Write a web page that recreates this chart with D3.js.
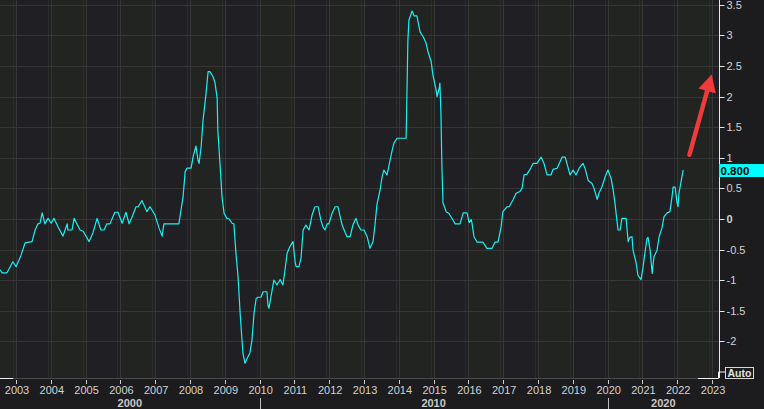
<!DOCTYPE html>
<html>
<head>
<meta charset="utf-8">
<script src="https://cdn.jsdelivr.net/npm/d3@7"></script>
<style>
  html, body { margin: 0; padding: 0; background: #1c1c1e; }
  svg { display: block; }
  text { font-family: "Liberation Sans", "DejaVu Sans", sans-serif; }
</style>
</head>
<body>
<div id="main"></div>
<script>
// dates as decimal years
const dates = [
  2002.54, 2002.60, 2002.74, 2002.91, 2003.00, 2003.14, 2003.26, 2003.46, 2003.55, 2003.63,
  2003.69, 2003.75, 2003.83, 2003.92, 2004.01, 2004.09, 2004.21, 2004.35, 2004.47, 2004.49,
  2004.61, 2004.67, 2004.84, 2004.93, 2005.10, 2005.21, 2005.33, 2005.44, 2005.53, 2005.61,
  2005.70, 2005.84, 2005.93, 2006.05, 2006.16, 2006.25, 2006.36, 2006.45, 2006.51, 2006.62,
  2006.76, 2006.85, 2006.99, 2007.11, 2007.20, 2007.25, 2007.68, 2007.80, 2007.86, 2007.91,
  2008.03, 2008.09, 2008.17, 2008.23, 2008.26, 2008.32, 2008.37, 2008.46, 2008.52, 2008.57,
  2008.66, 2008.72, 2008.78, 2008.80, 2008.86, 2008.92, 2008.98, 2009.06, 2009.12, 2009.21,
  2009.26, 2009.32, 2009.38, 2009.44, 2009.49, 2009.52, 2009.58, 2009.64, 2009.72, 2009.78,
  2009.84, 2009.90, 2009.95, 2010.04, 2010.10, 2010.21, 2010.24, 2010.27, 2010.36, 2010.41,
  2010.50, 2010.59, 2010.67, 2010.73, 2010.79, 2010.87, 2010.96, 2011.02, 2011.05, 2011.13,
  2011.19, 2011.25, 2011.33, 2011.42, 2011.51, 2011.59, 2011.68, 2011.76, 2011.82, 2011.88,
  2011.94, 2011.99, 2012.08, 2012.17, 2012.25, 2012.37, 2012.45, 2012.51, 2012.60, 2012.68,
  2012.77, 2012.83, 2012.91, 2013.00, 2013.09, 2013.17, 2013.26, 2013.32, 2013.37, 2013.46,
  2013.52, 2013.57, 2013.66, 2013.72, 2013.80, 2013.86, 2013.95, 2014.21, 2014.24, 2014.26,
  2014.29, 2014.38, 2014.44, 2014.52, 2014.61, 2014.70, 2014.78, 2014.84, 2014.93, 2014.98,
  2015.07, 2015.10, 2015.16, 2015.18, 2015.21, 2015.24, 2015.27, 2015.36, 2015.44, 2015.56,
  2015.62, 2015.76, 2015.85, 2015.96, 2016.02, 2016.08, 2016.10, 2016.16, 2016.25, 2016.42,
  2016.53, 2016.68, 2016.76, 2016.85, 2016.94, 2016.99, 2017.11, 2017.17, 2017.28, 2017.37,
  2017.48, 2017.54, 2017.60, 2017.68, 2017.77, 2017.86, 2017.97, 2018.09, 2018.17, 2018.26,
  2018.37, 2018.43, 2018.55, 2018.69, 2018.78, 2018.83, 2018.92, 2019.01, 2019.09, 2019.18,
  2019.29, 2019.35, 2019.44, 2019.55, 2019.61, 2019.70, 2019.75, 2019.84, 2019.93, 2020.01,
  2020.10, 2020.16, 2020.21, 2020.27, 2020.30, 2020.36, 2020.41, 2020.53, 2020.56, 2020.59,
  2020.64, 2020.70, 2020.73, 2020.82, 2020.87, 2020.96, 2021.02, 2021.07, 2021.13, 2021.16,
  2021.22, 2021.28, 2021.33, 2021.42, 2021.48, 2021.56, 2021.62, 2021.71, 2021.79, 2021.85,
  2021.88, 2021.94, 2021.99, 2022.02, 2022.05, 2022.11, 2022.17
];
const values = [
  -0.83, -0.88, -0.88, -0.70, -0.78, -0.60, -0.39, -0.37, -0.18, -0.08,
  -0.07, 0.10, -0.08, 0.01, -0.07, 0.01, -0.13, -0.28, -0.08, -0.18,
  -0.18, 0.01, -0.18, -0.20, -0.37, -0.23, 0.01, -0.18, -0.18, -0.08,
  -0.08, 0.11, 0.11, -0.07, 0.11, -0.08, 0.07, 0.20, 0.20, 0.30,
  0.12, 0.20, 0.07, -0.15, -0.28, -0.08, -0.08, 0.36, 0.77, 0.83,
  0.83, 1.02, 1.19, 0.96, 0.91, 1.18, 1.59, 2.05, 2.41, 2.41,
  2.33, 2.22, 1.97, 1.45, 0.91, 0.36, 0.09, 0.01, 0.00, -0.07,
  -0.08, -0.56, -0.94, -1.54, -1.95, -2.19, -2.36, -2.28, -2.19, -1.98,
  -1.54, -1.30, -1.28, -1.28, -1.19, -1.19, -1.41, -1.46, -1.16, -1.00,
  -1.08, -0.99, -1.08, -0.83, -0.56, -0.45, -0.37, -0.70, -0.78, -0.78,
  -0.64, -0.18, -0.10, -0.18, 0.07, 0.20, 0.20, -0.02, -0.13, -0.18,
  -0.08, -0.08, 0.09, 0.20, 0.20, -0.10, -0.21, -0.29, -0.29, -0.10,
  0.01, -0.10, -0.18, -0.18, -0.29, -0.48, -0.37, -0.07, 0.23, 0.47,
  0.69, 0.80, 0.72, 0.88, 1.10, 1.24, 1.32, 1.32, 2.27, 2.92,
  3.25, 3.40, 3.32, 3.32, 3.06, 2.98, 2.88, 2.73, 2.57, 2.35,
  2.11, 2.00, 2.14, 2.22, 1.73, 0.80, 0.26, 0.12, 0.09, -0.02,
  -0.08, -0.08, 0.10, 0.10, -0.06, -0.01, -0.06, -0.29, -0.38, -0.38,
  -0.48, -0.48, -0.38, -0.38, -0.13, 0.12, 0.20, 0.20, 0.31, 0.42,
  0.45, 0.50, 0.72, 0.73, 0.81, 0.91, 0.91, 1.01, 0.91, 0.72,
  0.72, 0.81, 0.83, 1.01, 1.01, 0.91, 0.72, 0.80, 0.72, 0.83,
  0.91, 0.83, 0.63, 0.58, 0.50, 0.32, 0.42, 0.53, 0.69, 0.80,
  0.66, 0.47, 0.26, -0.04, -0.18, -0.18, 0.01, 0.01, -0.18, -0.37,
  -0.30, -0.29, -0.51, -0.72, -0.92, -0.99, -0.78, -0.56, -0.32, -0.30,
  -0.51, -0.89, -0.62, -0.51, -0.29, -0.15, 0.04, 0.10, 0.12, 0.36,
  0.52, 0.52, 0.28, 0.20, 0.42, 0.61, 0.80
];
const yTicks = [3.5, 3, 2.5, 2, 1.5, 1, 0.5, 0, -0.5, -1, -1.5, -2];
const yearTicks = d3.range(2003, 2024);
const decades = [2000, 2010, 2020];
const lastLabel = '0.800';
// arrow annotation, in data units
const arrowFrom = [2022.35, 1.05];
const arrowTo = [2022.99, 2.36];

const W = 764, H = 409,
  plotR = 719, plotB = 378;

const svg = d3.select('#main').append('svg')
  .attr('width', W).attr('height', H);

const x = d3.scaleLinear().domain([2002.54, 2023.2]).range([0, plotR]);
const y = d3.scaleLinear().domain([-2.6, 3.58]).range([plotB, 0]);

// backgrounds
svg.append('rect').attr('width', W).attr('height', H).attr('fill', '#1c1c1e');
svg.append('rect').attr('width', plotR).attr('height', plotB).attr('fill', '#201f23');

// alternating year bands (even years slightly greener)
const bandYears = d3.range(2002, 2024).filter(d => d % 2 === 0);
svg.append('g').selectAll('rect')
  .data(bandYears)
  .enter().append('rect')
    .attr('x', d => Math.max(0, x(d)))
    .attr('width', d => Math.min(plotR, x(d + 1)) - Math.max(0, x(d)))
    .attr('y', 0)
    .attr('height', plotB)
    .attr('fill', '#222421');

// grid
const grid = svg.append('g').attr('shape-rendering', 'crispEdges');
grid.selectAll('line.vg')
  .data(yearTicks)
  .enter().append('line')
    .attr('class', 'vg')
    .attr('x1', d => Math.round(x(d)) + 0.5).attr('x2', d => Math.round(x(d)) + 0.5)
    .attr('y1', 0).attr('y2', plotB)
    .attr('stroke', '#363636');
grid.selectAll('line.vg2')
  .data(yearTicks)
  .enter().append('line')
    .attr('class', 'vg2')
    .attr('x1', d => Math.round(x(d)) - 2.5).attr('x2', d => Math.round(x(d)) - 2.5)
    .attr('y1', 0).attr('y2', plotB)
    .attr('stroke', '#2b2c2b');
grid.selectAll('line.hg')
  .data(yTicks)
  .enter().append('line')
    .attr('class', 'hg')
    .attr('x1', 0).attr('x2', plotR)
    .attr('y1', d => Math.round(y(d)) + 0.5).attr('y2', d => Math.round(y(d)) + 0.5)
    .attr('stroke', '#363636');

// series line
const line = d3.line()
  .x((d, i) => x(dates[i]))
  .y(d => y(d));
svg.append('path')
  .datum(values)
  .attr('d', line)
  .attr('fill', 'none')
  .attr('stroke', '#16f2f6')
  .attr('stroke-width', 1.2)
  .attr('stroke-linejoin', 'round');

// right axis
const yAxis = svg.append('g').attr('transform', `translate(${plotR + 0.5},0)`);
yAxis.append('line')
  .attr('y1', 0).attr('y2', plotB)
  .attr('stroke', '#e8e8e8');
yAxis.selectAll('line.tk')
  .data(yTicks)
  .enter().append('line')
    .attr('class', 'tk')
    .attr('x1', 0).attr('x2', 5)
    .attr('y1', d => Math.round(y(d)) + 0.5).attr('y2', d => Math.round(y(d)) + 0.5)
    .attr('stroke', '#e8e8e8');
yAxis.selectAll('text')
  .data(yTicks)
  .enter().append('text')
    .attr('x', 7)
    .attr('y', d => y(d) + 4)
    .attr('font-size', 11)
    .attr('font-weight', d => d === 0 ? 'bold' : 'normal')
    .attr('fill', '#d2d2d2')
    .text(d => d);

// last value tag
const lastV = values[values.length - 1];
svg.append('rect')
  .attr('x', plotR).attr('y', y(lastV) - 6)
  .attr('width', W - plotR).attr('height', 13)
  .attr('fill', '#00ffff');
svg.append('text')
  .attr('x', plotR + 1.5).attr('y', y(lastV) + 4.5)
  .attr('font-family', '"DejaVu Sans", sans-serif')
  .attr('font-size', 11.5).attr('font-weight', 'bold')
  .attr('fill', '#000')
  .text(lastLabel);

// Auto button
svg.append('rect')
  .attr('x', 725.5).attr('y', 367.5).attr('width', 28).attr('height', 11)
  .attr('fill', '#1c1c1e').attr('stroke', '#d8d8d8');
svg.append('text')
  .attr('x', 739.5).attr('y', 377)
  .attr('text-anchor', 'middle')
  .attr('font-size', 10.5).attr('font-weight', 'bold')
  .attr('fill', '#e0e0e0')
  .text('Auto');

// bottom axis
const xAxis = svg.append('g');
xAxis.append('line')
  .attr('x1', 0).attr('x2', plotR)
  .attr('y1', plotB + 0.5).attr('y2', plotB + 0.5)
  .attr('stroke', '#4a4a4a');
xAxis.append('path')
  .attr('d', `M0,${plotB + 0.5}H${x(2002.92)}`)
  .attr('stroke', '#f0f0f0').attr('fill', 'none');
xAxis.append('path')
  .attr('d', `M${x(2022.6)},${plotB + 0.5}H${plotR - 0.5}V${plotB - 6}H${plotR + 6}`)
  .attr('stroke', '#f0f0f0').attr('fill', 'none');
xAxis.selectAll('line.tk')
  .data(yearTicks)
  .enter().append('line')
    .attr('class', 'tk')
    .attr('x1', d => Math.round(x(d)) + 0.5).attr('x2', d => Math.round(x(d)) + 0.5)
    .attr('y1', plotB + 2).attr('y2', plotB + 6)
    .attr('stroke', '#cfcfcf');
xAxis.selectAll('text.yr')
  .data(yearTicks)
  .enter().append('text')
    .attr('class', 'yr')
    .attr('x', d => x(d) + 1)
    .attr('y', plotB + 16)
    .attr('text-anchor', 'middle')
    .attr('font-size', 11)
    .attr('fill', '#d2d2d2')
    .text(d => d);

// decade separators and labels
xAxis.selectAll('line.dec')
  .data(decades.filter(d => x(d) > 0))
  .enter().append('line')
    .attr('class', 'dec')
    .attr('x1', d => Math.round(x(d)) + 0.5).attr('x2', d => Math.round(x(d)) + 0.5)
    .attr('y1', plotB + 20).attr('y2', H)
    .attr('stroke', '#bdbdbd');
xAxis.selectAll('text.dec')
  .data(decades)
  .enter().append('text')
    .attr('class', 'dec')
    .attr('x', d => (Math.max(0, x(d)) + Math.min(plotR, x(d + 10))) / 2)
    .attr('y', plotB + 29)
    .attr('text-anchor', 'middle')
    .attr('font-size', 11)
    .attr('font-weight', 'bold')
    .attr('fill', '#c8c8c8')
    .text(d => d);

// red arrow annotation
const ax1 = x(arrowFrom[0]), ay1 = y(arrowFrom[1]),
  ax2 = x(arrowTo[0]), ay2 = y(arrowTo[1]);
const ang = Math.atan2(ay2 - ay1, ax2 - ax1),
  headL = 17, headW = 9;
const bx = ax2 - headL * Math.cos(ang), by = ay2 - headL * Math.sin(ang);
svg.append('line')
  .attr('x1', ax1).attr('y1', ay1).attr('x2', bx).attr('y2', by)
  .attr('stroke', '#ef3b3b').attr('stroke-width', 4.5).attr('stroke-linecap', 'round');
svg.append('path')
  .attr('d', `M${ax2},${ay2}L${bx + headW * Math.sin(ang)},${by - headW * Math.cos(ang)}L${bx - headW * Math.sin(ang)},${by + headW * Math.cos(ang)}Z`)
  .attr('fill', '#ef3b3b');
</script>
</body>
</html>
